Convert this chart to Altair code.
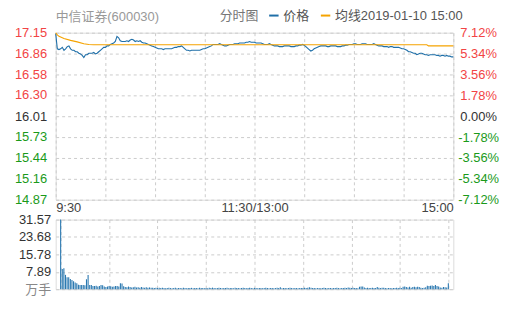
import altair as alt
import pandas as pd

stock_title = "中信证券(600030)"
chart_label = "分时图"
series_names = ["价格", "均线"]
timestamp = "2019-01-10 15:00"
pre_close = 16.01

# minute-by-minute price, 9:30 .. 11:30 / 13:00 .. 15:00 (241 points)
price = [
    17.14, 16.93, 16.92, 16.93, 16.95, 16.91, 16.93, 16.96, 16.97, 16.93,
    16.91, 16.91, 16.89, 16.89, 16.87, 16.86, 16.84, 16.81, 16.85, 16.85,
    16.87, 16.87, 16.87, 16.88, 16.86, 16.87, 16.89, 16.91, 16.93, 16.95,
    16.95, 16.97, 16.97, 16.99, 17.00, 17.01, 17.03, 17.10, 17.08, 17.04,
    17.03, 17.03, 17.03, 17.04, 17.03, 17.05, 17.06, 17.05, 17.03, 17.04,
    17.03, 17.04, 17.02, 17.01, 17.01, 17.00, 16.99, 16.98, 16.97, 16.96,
    16.95, 16.94, 16.93, 16.93, 16.93, 16.92, 16.93, 16.93, 16.93, 16.93,
    16.93, 16.94, 16.95, 16.95, 16.96, 16.96, 16.97, 16.95, 16.93, 16.91,
    16.91, 16.90, 16.91, 16.91, 16.91, 16.91, 16.91, 16.91, 16.92, 16.93,
    16.93, 16.94, 16.95, 16.96, 16.97, 16.99, 16.99, 16.99, 16.99, 17.00,
    16.99, 16.98, 16.97, 16.97, 16.98, 16.99, 16.99, 16.99, 17.00, 17.00,
    17.00, 17.01, 17.01, 17.01, 17.01, 17.02, 17.02, 17.03, 17.02, 17.02,
    17.02, 17.01, 17.01, 17.01, 17.01, 17.00, 16.99, 16.99, 16.99, 17.00,
    16.99, 16.98, 16.97, 16.97, 16.97, 16.96, 16.96, 16.96, 16.97, 16.97,
    16.97, 16.97, 16.96, 16.96, 16.96, 16.97, 16.97, 16.98, 16.98, 16.99,
    16.98, 16.96, 16.94, 16.92, 16.90, 16.91, 16.93, 16.94, 16.95, 16.96,
    16.97, 16.97, 16.97, 16.97, 16.96, 16.96, 16.97, 16.97, 16.97, 16.97,
    16.96, 16.96, 16.96, 16.97, 16.97, 16.98, 16.98, 16.99, 16.99, 16.99,
    17.00, 17.00, 16.99, 16.99, 16.99, 17.00, 17.00, 17.00, 16.99, 16.99,
    16.99, 16.99, 17.00, 16.99, 16.98, 16.97, 16.97, 16.97, 16.96, 16.96,
    16.96, 16.95, 16.96, 16.96, 16.95, 16.95, 16.95, 16.95, 16.94, 16.93,
    16.93, 16.92, 16.91, 16.89, 16.89, 16.88, 16.87, 16.87, 16.85, 16.86,
    16.87, 16.87, 16.86, 16.85, 16.85, 16.84, 16.85, 16.85, 16.85, 16.85,
    16.84, 16.84, 16.83, 16.84, 16.84, 16.83, 16.84, 16.83, 16.83, 16.82,
    16.82,
]

# volume per minute, in 万手
volume = [
    31.57, 9.2, 9.5, 6.5, 5.4, 5.4, 4.6, 4.2, 3.6, 3.0,
    2.7, 2.0, 1.9, 1.9, 1.9, 1.8, 4.5, 6.4, 1.9, 1.9,
    1.5, 1.5, 1.6, 1.2, 1.5, 1.9, 1.8, 1.2, 1.0, 1.2,
    1.5, 1.3, 1.1, 1.2, 1.5, 1.4, 1.2, 2.7, 2.6, 1.3,
    1.0, 0.9, 1.2, 1.0, 0.8, 0.9, 1.1, 0.8, 0.9, 0.7,
    1.0, 0.8, 0.7, 0.9, 0.6, 0.8, 0.7, 0.6, 0.5, 0.6,
    0.5, 0.6, 0.5, 0.7, 0.5, 0.4, 0.5, 0.6, 0.5, 0.4,
    0.5, 0.6, 0.4, 0.5, 0.5, 0.4, 0.6, 0.5, 0.4, 0.5,
    0.5, 0.6, 0.4, 0.5, 0.5, 0.4, 0.6, 0.5, 0.5, 0.4,
    0.5, 0.4, 0.6, 0.5, 0.7, 0.5, 0.4, 0.5, 0.6, 0.5,
    0.4, 0.5, 0.5, 0.6, 0.4, 0.5, 0.5, 0.4, 0.6, 0.5,
    0.5, 0.4, 0.5, 0.6, 0.5, 0.4, 0.5, 0.7, 0.5, 0.4,
    0.6, 0.5, 0.4, 0.5, 0.5, 0.4, 0.5, 0.6, 0.5, 0.4,
    0.5, 0.5, 0.4, 0.5, 0.6, 0.5, 0.9, 0.4, 0.5, 0.5,
    0.4, 0.5, 0.6, 0.5, 0.4, 0.5, 0.5, 0.4, 0.5, 0.5,
    0.5, 0.6, 0.5, 0.6, 0.9, 0.6, 0.5, 0.5, 0.4, 0.5,
    0.5, 0.4, 0.5, 0.6, 0.5, 0.4, 0.5, 0.5, 0.4, 0.5,
    0.5, 0.6, 0.5, 0.4, 0.5, 0.5, 0.6, 0.5, 0.8, 0.6,
    0.5, 0.6, 0.5, 0.5, 0.4, 1.1, 1.2, 1.2, 0.8, 0.5,
    0.6, 0.5, 0.5, 0.6, 0.5, 0.5, 1.0, 0.6, 0.5, 0.6,
    0.6, 0.5, 0.4, 0.5, 0.5, 0.4, 0.5, 0.5, 0.6, 0.5,
    0.6, 0.5, 1.1, 1.2, 1.0, 0.8, 1.1, 0.7, 1.0, 1.1,
    0.9, 1.1, 1.0, 0.6, 0.5, 0.6, 0.9, 1.6, 1.5, 1.6,
    1.7, 1.4, 1.9, 1.5, 1.2, 0.8, 0.7, 1.0, 0.9, 0.8,
    2.7,
]

# average-price line, read at the minutes where it bends
avg_minutes = [0, 1, 2, 5, 9, 13, 17, 20, 23, 224, 225, 240]
avg_values = [17.15, 17.12, 17.10, 17.07, 17.045, 17.025, 17.00, 16.99, 16.985, 16.985, 16.97, 16.97]

price_ticks = [14.87, 15.16, 15.44, 15.73, 16.01, 16.30, 16.58, 16.86, 17.15]
pct_ticks = [-7.12, -5.34, -3.56, -1.78, 0.00, 1.78, 3.56, 5.34, 7.12]
vol_ticks = [0, 7.89, 15.78, 23.68, 31.57]
time_ticks = [0, 30, 60, 90, 120, 150, 180, 210, 240]
time_labels = {0: "9:30", 120: "11:30/13:00", 240: "15:00"}
vol_unit = "万手"

BLUE = "#1f6fa8"
ORANGE = "#f5a300"
RED = "#f24444"
GREEN = "#1a9a1a"
NEUTRAL = "#333333"
FONT = "Liberation Sans, Noto Sans CJK SC"

minutes = list(range(len(price)))
lines_df = pd.concat([
    pd.DataFrame({"minute": minutes, "value": price, "series": series_names[0]}),
    pd.DataFrame({"minute": avg_minutes, "value": avg_values, "series": series_names[1]}),
])
pct_df = pd.DataFrame({"pct": pct_ticks})
vol_df = pd.DataFrame({"minute": minutes, "volume": volume})

x_label_expr = " : ".join(
    [f"datum.value == {k} ? '{v}'" for k, v in time_labels.items()]
) + " : ''"

x_scale = alt.Scale(domain=[0, 240], nice=False, zero=False)
grid_kw = dict(gridColor="#cccccc", gridDash=[3, 3], gridWidth=1, domain=False, ticks=False)

x_axis_top = alt.Axis(
    values=time_ticks, labelExpr=x_label_expr, labelFlush=True, labelOverlap=False,
    labelPadding=2, labelFontSize=13, labelColor="#444444", labelFont=FONT,
    title=None, **grid_kw,
)
x_axis_bottom = alt.Axis(values=time_ticks, labels=False, title=None, **grid_kw)

lines = alt.Chart(lines_df).mark_line(strokeWidth=1.1, interpolate="linear").encode(
    x=alt.X("minute:Q", scale=x_scale, axis=x_axis_top),
    y=alt.Y(
        "value:Q",
        scale=alt.Scale(domain=[price_ticks[0], price_ticks[-1]], nice=False, zero=False),
        axis=alt.Axis(
            values=price_ticks, format=".2f", labelOverlap=False, labelFontSize=13,
            labelFont=FONT, labelPadding=9, minExtent=50, title=None,
            labelColor=alt.expr(
                f"datum.value > {pre_close} + 0.001 ? '{RED}' : datum.value < {pre_close} - 0.001 ? '{GREEN}' : '{NEUTRAL}'"
            ),
            **grid_kw,
        ),
    ),
    color=alt.Color(
        "series:N",
        scale=alt.Scale(domain=series_names, range=[BLUE, ORANGE]),
        legend=alt.Legend(
            title=chart_label, titleOrient="left", orient="none", direction="horizontal",
            legendX=165, legendY=-24, symbolType="stroke", symbolStrokeWidth=2,
            symbolSize=90, labelFontSize=13, titleFontSize=13, titleFontWeight="normal",
            titleColor="#777777", labelColor="#555555", labelFont=FONT, titleFont=FONT,
            titlePadding=8, columnPadding=6, labelOffset=3,
            labelExpr=f"datum.label == '{series_names[1]}' ? datum.label + '{timestamp}' : datum.label",
        ),
    ),
    order="minute:Q",
)

pct_axis = alt.Chart(pct_df).mark_point(opacity=0).encode(
    y=alt.Y(
        "pct:Q",
        scale=alt.Scale(domain=[pct_ticks[0], pct_ticks[-1]], nice=False, zero=False),
        axis=alt.Axis(
            orient="right", values=pct_ticks,
            labelExpr="(datum.value < 0 ? '-' : '') + format(abs(datum.value), '.2f') + '%'",
            labelOverlap=False, labelFontSize=13, labelFont=FONT, labelPadding=25,
            labelAlign="center", minExtent=45, grid=False, domain=False, ticks=False, title=None,
            labelColor=alt.expr(
                f"datum.value > 0.001 ? '{RED}' : datum.value < -0.001 ? '{GREEN}' : '{NEUTRAL}'"
            ),
        ),
    ),
)

top = alt.layer(lines, pct_axis).resolve_scale(y="independent").properties(
    width=400, height=168,
    title=alt.TitleParams(
        stock_title, anchor="start", fontSize=13, fontWeight="normal", color="#999999",
        font=FONT, offset=3, frame="group",
    ),
)

bars = alt.Chart(vol_df).mark_bar(size=1.1, color="#2a78b0").encode(
    x=alt.X("minute:Q", scale=x_scale, axis=x_axis_bottom),
    y=alt.Y(
        "volume:Q",
        scale=alt.Scale(domain=[vol_ticks[0], vol_ticks[-1]], nice=False),
        axis=alt.Axis(
            values=vol_ticks, labelOverlap=False, labelFontSize=13, labelFont=FONT,
            labelPadding=5, minExtent=50, title=None,
            labelExpr=f"datum.value == 0 ? '{vol_unit}' : format(datum.value, '.2f')",
            labelColor=alt.expr("datum.value == 0 ? '#888888' : '#333333'"),
            **grid_kw,
        ),
    ),
).properties(width=400, height=70)

chart = alt.vconcat(top, bars, spacing=20, bounds="flush").properties(
    padding={"left": 5, "top": 8, "right": 5, "bottom": 5},
).configure_view(stroke="#999999", strokeWidth=1).configure(background="white")

chart.save("out.html", embed_options={"renderer": "svg", "actions": False})
